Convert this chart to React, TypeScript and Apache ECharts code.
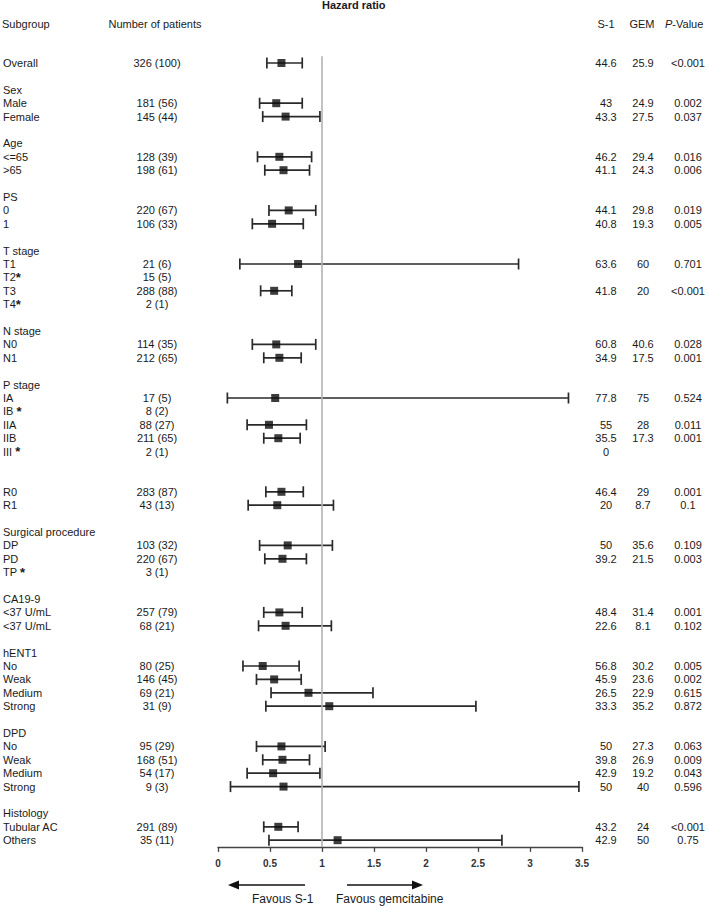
import React, { useEffect, useRef } from "react";
import * as echarts from "echarts";

const rowLabels = [
  "Overall", "",
  "Sex", "Male", "Female", "",
  "Age", "<=65", ">65", "",
  "PS", "0", "1", "",
  "T stage", "T1", "T2*", "T3", "T4*", "",
  "N stage", "N0", "N1", "",
  "P stage", "IA", "IB *", "IIA", "IIB", "III *", "", "",
  "R0", "R1", "",
  "Surgical procedure", "DP", "PD", "TP *", "",
  "CA19-9", "<37 U/mL", "<37 U/mL", "",
  "hENT1", "No", "Weak", "Medium", "Strong", "",
  "DPD", "No", "Weak", "Medium", "Strong", "",
  "Histology", "Tubular AC", "Others",
];

const patients = [
  "326 (100)", "",
  "", "181 (56)", "145 (44)", "",
  "", "128 (39)", "198 (61)", "",
  "", "220 (67)", "106 (33)", "",
  "", "21 (6)", "15 (5)", "288 (88)", "2 (1)", "",
  "", "114 (35)", "212 (65)", "",
  "", "17 (5)", "8 (2)", "88 (27)", "211 (65)", "2 (1)", "", "",
  "283 (87)", "43 (13)", "",
  "", "103 (32)", "220 (67)", "3 (1)", "",
  "", "257 (79)", "68 (21)", "",
  "", "80 (25)", "146 (45)", "69 (21)", "31 (9)", "",
  "", "95 (29)", "168 (51)", "54 (17)", "9 (3)", "",
  "", "291 (89)", "35 (11)",
];

const s1Values = [
  "44.6", "",
  "", "43", "43.3", "",
  "", "46.2", "41.1", "",
  "", "44.1", "40.8", "",
  "", "63.6", "", "41.8", "", "",
  "", "60.8", "34.9", "",
  "", "77.8", "", "55", "35.5", "0", "", "",
  "46.4", "20", "",
  "", "50", "39.2", "", "",
  "", "48.4", "22.6", "",
  "", "56.8", "45.9", "26.5", "33.3", "",
  "", "50", "39.8", "42.9", "50", "",
  "", "43.2", "42.9",
];

const gemValues = [
  "25.9", "",
  "", "24.9", "27.5", "",
  "", "29.4", "24.3", "",
  "", "29.8", "19.3", "",
  "", "60", "", "20", "", "",
  "", "40.6", "17.5", "",
  "", "75", "", "28", "17.3", "", "", "",
  "29", "8.7", "",
  "", "35.6", "21.5", "", "",
  "", "31.4", "8.1", "",
  "", "30.2", "23.6", "22.9", "35.2", "",
  "", "27.3", "26.9", "19.2", "40", "",
  "", "24", "50",
];

const pValues = [
  "<0.001", "",
  "", "0.002", "0.037", "",
  "", "0.016", "0.006", "",
  "", "0.019", "0.005", "",
  "", "0.701", "", "<0.001", "", "",
  "", "0.028", "0.001", "",
  "", "0.524", "", "0.011", "0.001", "", "", "",
  "0.001", "0.1", "",
  "", "0.109", "0.003", "", "",
  "", "0.001", "0.102", "",
  "", "0.005", "0.002", "0.615", "0.872", "",
  "", "0.063", "0.009", "0.043", "0.596", "",
  "", "<0.001", "0.75",
];

const hazardRatio = [
  0.61, null,
  null, 0.56, 0.65, null,
  null, 0.59, 0.63, null,
  null, 0.68, 0.52, null,
  null, 0.77, null, 0.54, null, null,
  null, 0.56, 0.59, null,
  null, 0.55, null, 0.49, 0.58, null, null, null,
  0.61, 0.57, null,
  null, 0.67, 0.62, null, null,
  null, 0.59, 0.65, null,
  null, 0.43, 0.54, 0.87, 1.07, null,
  null, 0.61, 0.62, 0.53, 0.63, null,
  null, 0.58, 1.15,
];

const ciLow = [
  0.47, null,
  null, 0.40, 0.43, null,
  null, 0.38, 0.45, null,
  null, 0.49, 0.33, null,
  null, 0.21, null, 0.41, null, null,
  null, 0.33, 0.44, null,
  null, 0.09, null, 0.28, 0.44, null, null, null,
  0.46, 0.29, null,
  null, 0.40, 0.45, null, null,
  null, 0.44, 0.39, null,
  null, 0.24, 0.37, 0.51, 0.46, null,
  null, 0.37, 0.43, 0.28, 0.12, null,
  null, 0.44, 0.49,
];

const ciHigh = [
  0.81, null,
  null, 0.81, 0.98, null,
  null, 0.90, 0.88, null,
  null, 0.94, 0.82, null,
  null, 2.89, null, 0.71, null, null,
  null, 0.94, 0.80, null,
  null, 3.37, null, 0.85, 0.79, null, null, null,
  0.82, 1.11, null,
  null, 1.10, 0.85, null, null,
  null, 0.81, 1.09, null,
  null, 0.78, 0.80, 1.49, 2.48, null,
  null, 1.03, 0.88, 0.98, 3.47, null,
  null, 0.77, 2.73,
];

const FONT = '"Liberation Sans", Arial, sans-serif';
const TXT = "#1a1a1a";

export default function App() {
  const ref = useRef<HTMLDivElement>(null);

  useEffect(() => {
    document.body.style.margin = "0";
    const chart = echarts.init(ref.current as HTMLDivElement, null, { renderer: "svg" });

    const rowIds = rowLabels.map((_, i) => String(i));
    const ciData: number[][] = [];
    const hrData: number[][] = [];
    rowLabels.forEach((_, i) => {
      if (hazardRatio[i] != null) {
        hrData.push([hazardRatio[i] as number, i]);
        ciData.push([ciLow[i] as number, ciHigh[i] as number, i]);
      }
    });

    const labelStyle = { fontFamily: FONT, fontSize: 11, color: TXT };

    const makeAxis = (
      position: "left" | "right",
      margin: number,
      align: "left" | "center" | "right",
      values: string[],
      withStar = false
    ) => ({
      type: "category",
      data: rowIds,
      inverse: true,
      position,
      axisLine: { show: false },
      axisTick: { show: false },
      splitLine: { show: false },
      axisLabel: {
        interval: 0,
        margin,
        align,
        ...labelStyle,
        formatter: (_v: string, idx: number) => {
          const t = values[idx] || "";
          if (withStar && t.endsWith("*")) {
            return t.slice(0, -1) + "{s|*}";
          }
          return t;
        },
        rich: withStar
          ? { s: { fontFamily: FONT, fontSize: 13, fontWeight: "bold", color: TXT } }
          : undefined,
      },
    });

    const option: any = {
      animation: false,
      grid: {
        left: 218,
        right: 127,
        top: 56.3,
        height: 790.6,
        outerBoundsMode: "none",
        containLabel: false,
      },
      xAxis: {
        type: "value",
        min: 0,
        max: 3.5,
        interval: 0.5,
        axisLine: { show: true, lineStyle: { color: "#444", width: 1.3 } },
        axisTick: { show: true, length: 5, lineStyle: { color: "#444", width: 1.3 } },
        splitLine: { show: false },
        axisLabel: { fontFamily: FONT, fontSize: 10, fontWeight: "bold", color: "#333", margin: 12 },
      },
      yAxis: [
        makeAxis("left", 215, "left", rowLabels, true),
        makeAxis("left", 61, "center", patients),
        makeAxis("right", 24, "center", s1Values),
        makeAxis("right", 61, "center", gemValues),
        makeAxis("right", 106, "center", pValues),
      ],
      series: [
        {
          type: "custom",
          yAxisIndex: 0,
          encode: { x: [0, 1], y: 2 },
          data: ciData,
          z: 2,
          renderItem: (_p: any, api: any) => {
            const row = api.value(2);
            const a = api.coord([api.value(0), row]);
            const b = api.coord([api.value(1), row]);
            const cap = 5.5;
            const st = { stroke: "#2a2a2a", lineWidth: 1.7 };
            return {
              type: "group",
              children: [
                { type: "line", shape: { x1: a[0], y1: a[1], x2: b[0], y2: b[1] }, style: st },
                { type: "line", shape: { x1: a[0], y1: a[1] - cap, x2: a[0], y2: a[1] + cap }, style: st },
                { type: "line", shape: { x1: b[0], y1: b[1] - cap, x2: b[0], y2: b[1] + cap }, style: st },
              ],
            };
          },
        },
        {
          type: "scatter",
          yAxisIndex: 0,
          data: hrData,
          symbol: "rect",
          symbolSize: 8,
          z: 3,
          itemStyle: { color: "#0d0d0d" },
          markLine: {
            silent: true,
            symbol: "none",
            label: { show: false },
            lineStyle: { color: "#b3b3b3", width: 1.6, type: "solid" },
            data: [{ xAxis: 1 }],
          },
        },
      ],
      graphic: [
        {
          type: "text",
          x: 322,
          y: 5,
          style: { text: "Hazard ratio", font: `bold 11px ${FONT}`, fill: TXT, textAlign: "left", textVerticalAlign: "middle" },
        },
        {
          type: "text",
          x: 2,
          y: 24,
          style: { text: "Subgroup", font: `11px ${FONT}`, fill: TXT, textAlign: "left", textVerticalAlign: "middle" },
        },
        {
          type: "text",
          x: 155,
          y: 24,
          style: { text: "Number of patients", font: `11px ${FONT}`, fill: TXT, textAlign: "center", textVerticalAlign: "middle" },
        },
        {
          type: "text",
          x: 606,
          y: 24,
          style: { text: "S-1", font: `11px ${FONT}`, fill: TXT, textAlign: "center", textVerticalAlign: "middle" },
        },
        {
          type: "text",
          x: 642,
          y: 24,
          style: { text: "GEM", font: `11px ${FONT}`, fill: TXT, textAlign: "center", textVerticalAlign: "middle" },
        },
        {
          type: "text",
          x: 665,
          y: 24,
          style: {
            text: "{i|P}{n|-Value}",
            textAlign: "left",
            textVerticalAlign: "middle",
            rich: {
              i: { fontFamily: FONT, fontSize: 11, fontStyle: "italic", fill: TXT, color: TXT },
              n: { fontFamily: FONT, fontSize: 11, fill: TXT, color: TXT },
            },
          },
        },
        {
          type: "line",
          shape: { x1: 305, y1: 885, x2: 236, y2: 885 },
          style: { stroke: "#111", lineWidth: 1.5 },
        },
        {
          type: "polygon",
          shape: { points: [[228, 885], [239, 880.5], [239, 889.5]] },
          style: { fill: "#111" },
        },
        {
          type: "line",
          shape: { x1: 347, y1: 885, x2: 415, y2: 885 },
          style: { stroke: "#111", lineWidth: 1.5 },
        },
        {
          type: "polygon",
          shape: { points: [[423, 885], [412, 880.5], [412, 889.5]] },
          style: { fill: "#111" },
        },
        {
          type: "text",
          x: 252,
          y: 899,
          style: { text: "Favous S-1", font: `12px ${FONT}`, fill: TXT, textAlign: "left", textVerticalAlign: "middle" },
        },
        {
          type: "text",
          x: 336,
          y: 899,
          style: { text: "Favous gemcitabine", font: `12px ${FONT}`, fill: TXT, textAlign: "left", textVerticalAlign: "middle" },
        },
      ],
    };

    chart.setOption(option);
    return () => chart.dispose();
  }, []);

  return <div ref={ref} style={{ width: 709, height: 906 }} />;
}
